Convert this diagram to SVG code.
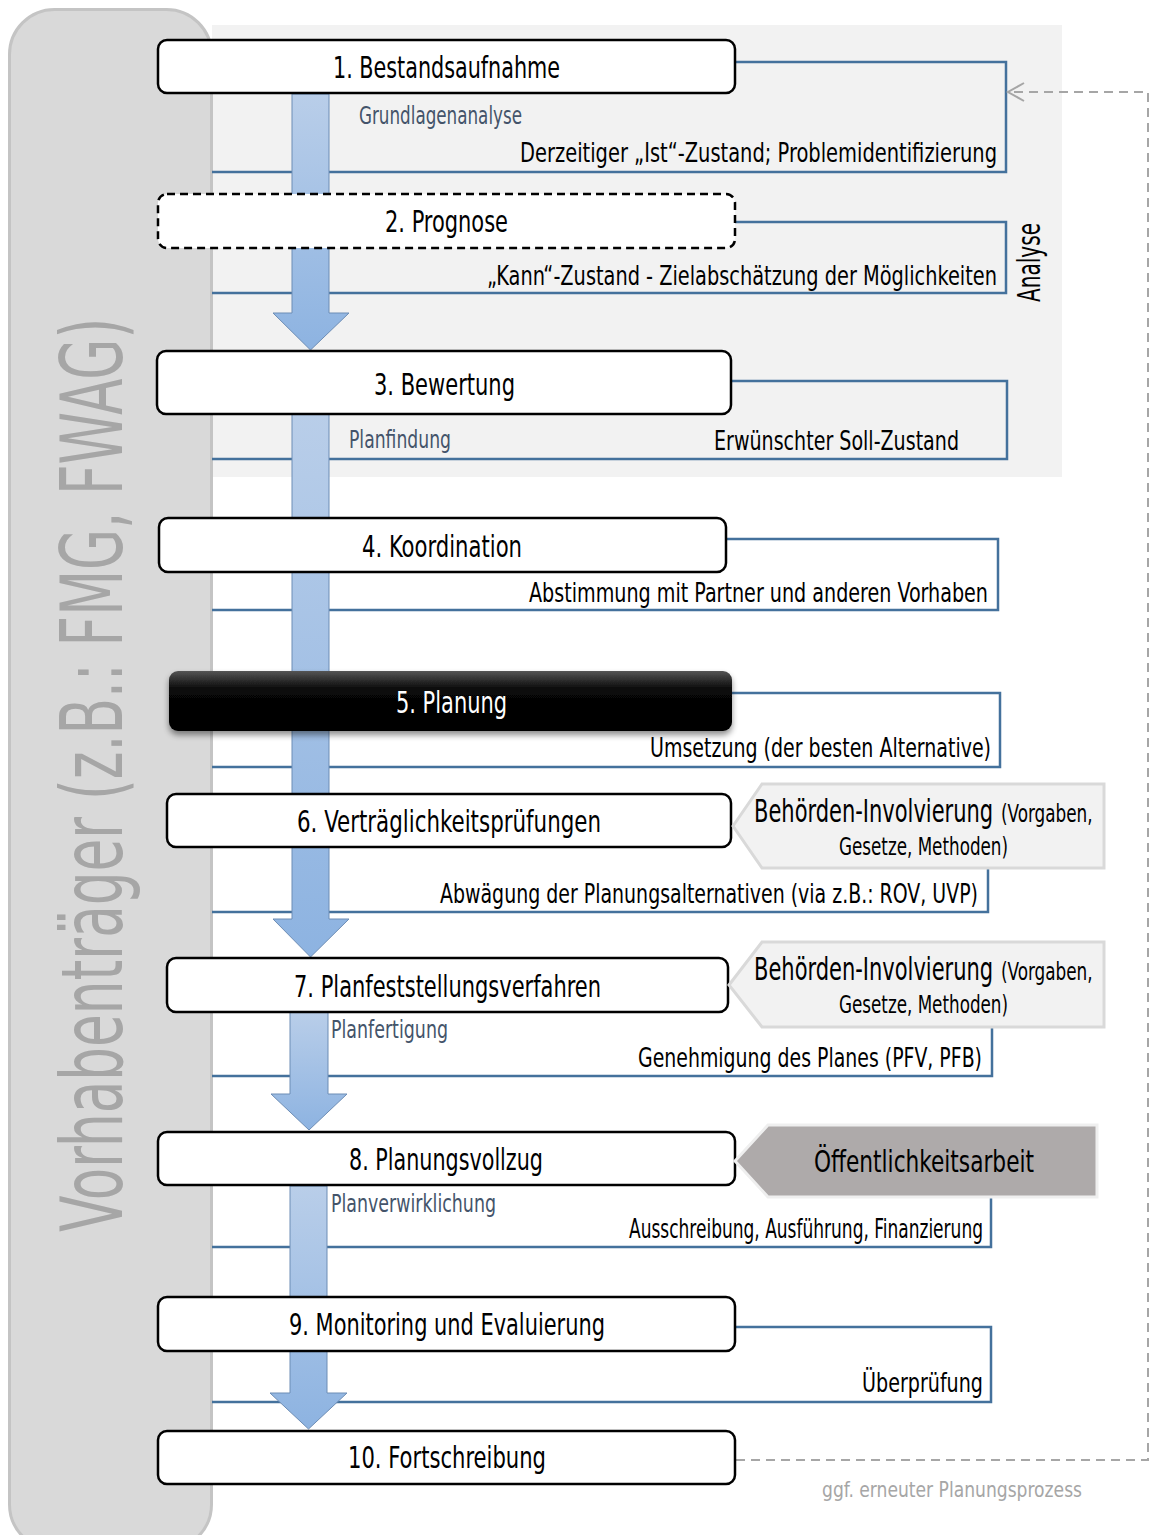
<svg xmlns="http://www.w3.org/2000/svg" width="1149" height="1535" viewBox="0 0 1149 1535">
  <defs>
    <linearGradient id="barGrad" x1="0" y1="0" x2="0" y2="1">
      <stop offset="0" stop-color="#b9cee9"/>
      <stop offset="1" stop-color="#8db3e1"/>
    </linearGradient>
    <linearGradient id="blackGrad" x1="0" y1="0" x2="0" y2="1">
      <stop offset="0" stop-color="#555"/>
      <stop offset="0.3" stop-color="#080808"/>
      <stop offset="1" stop-color="#000"/>
    </linearGradient>
    <filter id="shadow" x="-5%" y="-20%" width="110%" height="160%">
      <feGaussianBlur in="SourceAlpha" stdDeviation="3"/>
      <feOffset dy="4" result="b"/>
      <feComponentTransfer><feFuncA type="linear" slope="0.45"/></feComponentTransfer>
      <feMerge><feMergeNode/><feMergeNode in="SourceGraphic"/></feMerge>
    </filter>
  </defs>
  <style>
    text { font-family: "Liberation Sans Narrow", "DejaVu Sans Condensed", "Roboto", "Liberation Sans", sans-serif; }
    .box { fill: #fff; stroke: #000; stroke-width: 2.5; }
    .title { font-size: 31px; fill: #000; }
    .note { font-size: 27px; fill: #000; }
    .sub { font-size: 25px; fill: #44546a; }
    .bracket { fill: none; stroke: #44719c; stroke-width: 2.5; }
    .bar { fill: url(#barGrad); stroke: #6d8db5; stroke-width: 1; }
    .authority { fill: #f2f2f2; stroke: #d9d9d9; stroke-width: 3; }
    .loop { fill: none; stroke: #a6a6a6; stroke-width: 2; }
  </style>

  <!-- background panels -->
  <rect x="212" y="25" width="850" height="452" fill="#f2f2f2"/>
  <rect id="sponsor-panel" x="9.5" y="9.5" width="202" height="1540" rx="45" fill="#d9d9d9" stroke="#c4c4c4" stroke-width="3"/>
  <text transform="translate(122,1232) rotate(-90) scale(0.7,1)" font-size="86" fill="#a6a6a6" textLength="1306" lengthAdjust="spacingAndGlyphs">Vorhabenträger (z.B.: FMG, FWAG)</text>
  <text transform="translate(1040,302) rotate(-90)" font-size="32" fill="#000" textLength="79" lengthAdjust="spacingAndGlyphs">Analyse</text>

  <!-- connectors: result brackets, flow arrows, feedback loop -->
  <g id="connectors">
    <polyline class="bracket" points="735,62 1006,62 1006,172 212,172"/>
    <polyline class="bracket" points="735,222 1006,222 1006,293 212,293"/>
    <polyline class="bracket" points="731,381 1007,381 1007,459 212,459"/>
    <polyline class="bracket" points="726,539 998,539 998,610 212,610"/>
    <polyline class="bracket" points="732,693 1000,693 1000,767 212,767"/>
    <polyline class="bracket" points="988,868 988,912 212,912"/>
    <polyline class="bracket" points="992,1027 992,1076 212,1076"/>
    <polyline class="bracket" points="991,1197 991,1247 212,1247"/>
    <polyline class="bracket" points="735,1327 991,1327 991,1402 212,1402"/>

    <path class="bar" d="M292,94 V313 H273 L310.5,350 L349,313 H329 V94 Z"/>
    <path class="bar" d="M292,414 V919 H273 L310.5,957 L349,919 H329 V414 Z"/>
    <path class="bar" d="M290,1012 V1094 H271 L309,1130 L347,1094 H328 V1012 Z"/>
    <path class="bar" d="M290,1186 V1393 H270 L308.5,1429 L347,1393 H327 V1186 Z"/>

    <path class="loop" stroke-dasharray="9 6" d="M736,1460 H1148 V92 H1010"/>
    <polyline class="loop" points="1024,83 1008,92 1024,101"/>
  </g>

  <!-- result texts beside the brackets -->
  <text class="sub" x="359" y="124" textLength="163" lengthAdjust="spacingAndGlyphs">Grundlagenanalyse</text>
  <text class="note" x="520" y="162" textLength="477" lengthAdjust="spacingAndGlyphs">Derzeitiger „Ist“-Zustand; Problemidentifizierung</text>
  <text class="note" x="487" y="285" textLength="510" lengthAdjust="spacingAndGlyphs">„Kann“-Zustand - Zielabschätzung der Möglichkeiten</text>
  <text class="sub" x="349" y="448" textLength="102" lengthAdjust="spacingAndGlyphs">Planfindung</text>
  <text class="note" x="714" y="450" textLength="245" lengthAdjust="spacingAndGlyphs">Erwünschter Soll-Zustand</text>
  <text class="note" x="529" y="602" textLength="459" lengthAdjust="spacingAndGlyphs">Abstimmung mit Partner und anderen Vorhaben</text>
  <text class="note" x="650" y="757" textLength="341" lengthAdjust="spacingAndGlyphs">Umsetzung (der besten Alternative)</text>
  <text class="note" x="440" y="903" textLength="538" lengthAdjust="spacingAndGlyphs">Abwägung der Planungsalternativen (via z.B.: ROV, UVP)</text>
  <text class="sub" x="331" y="1038" textLength="117" lengthAdjust="spacingAndGlyphs">Planfertigung</text>
  <text class="note" x="638" y="1067" textLength="344" lengthAdjust="spacingAndGlyphs">Genehmigung des Planes (PFV, PFB)</text>
  <text class="sub" x="331" y="1212" textLength="165" lengthAdjust="spacingAndGlyphs">Planverwirklichung</text>
  <text class="note" x="629" y="1238" font-size="25" textLength="354" lengthAdjust="spacingAndGlyphs">Ausschreibung, Ausführung, Finanzierung</text>
  <text class="note" x="862" y="1392" textLength="121" lengthAdjust="spacingAndGlyphs">Überprüfung</text>
  <text x="822" y="1497" font-size="22" fill="#a6a6a6" textLength="260" lengthAdjust="spacingAndGlyphs">ggf. erneuter Planungsprozess</text>

  <!-- process steps -->
  <g id="step1">
    <rect class="box" x="158" y="40" width="577" height="53" rx="9"/>
    <text class="title" x="333" y="78" textLength="227" lengthAdjust="spacingAndGlyphs">1. Bestandsaufnahme</text>
  </g>
  <g id="step2">
    <rect class="box" x="158" y="194" width="577" height="54" rx="9" stroke-dasharray="8 5"/>
    <text class="title" x="385" y="232" textLength="123" lengthAdjust="spacingAndGlyphs">2. Prognose</text>
  </g>
  <g id="step3">
    <rect class="box" x="157" y="351" width="574" height="63" rx="9"/>
    <text class="title" x="374" y="395" textLength="141" lengthAdjust="spacingAndGlyphs">3. Bewertung</text>
  </g>
  <g id="step4">
    <rect class="box" x="159" y="518" width="567" height="54" rx="9"/>
    <text class="title" x="362" y="557" textLength="160" lengthAdjust="spacingAndGlyphs">4. Koordination</text>
  </g>
  <g id="step5">
    <rect x="169" y="671" width="563" height="60" rx="9" fill="url(#blackGrad)" filter="url(#shadow)"/>
    <text class="title" x="396" y="713" style="fill:#fff" textLength="111" lengthAdjust="spacingAndGlyphs">5. Planung</text>
  </g>
  <g id="step6">
    <rect class="box" x="167" y="794" width="564" height="53" rx="9"/>
    <text class="title" x="297" y="832" textLength="304" lengthAdjust="spacingAndGlyphs">6. Verträglichkeitsprüfungen</text>
  </g>
  <g id="step7">
    <rect class="box" x="167" y="958" width="561" height="54" rx="9"/>
    <text class="title" x="294" y="997" textLength="307" lengthAdjust="spacingAndGlyphs">7. Planfeststellungsverfahren</text>
  </g>
  <g id="step8">
    <rect class="box" x="158" y="1132" width="577" height="53" rx="9"/>
    <text class="title" x="349" y="1170" textLength="194" lengthAdjust="spacingAndGlyphs">8. Planungsvollzug</text>
  </g>
  <g id="step9">
    <rect class="box" x="158" y="1297" width="577" height="54" rx="9"/>
    <text class="title" x="289" y="1335" textLength="316" lengthAdjust="spacingAndGlyphs">9. Monitoring und Evaluierung</text>
  </g>
  <g id="step10">
    <rect class="box" x="158" y="1431" width="577" height="53" rx="9"/>
    <text class="title" x="348" y="1468" textLength="198" lengthAdjust="spacingAndGlyphs">10. Fortschreibung</text>
  </g>

  <!-- side notes (horizontally condensed via scale) -->
  <g id="authority1">
    <polygon class="authority" points="733,826 762,784 1104,784 1104,868 762,868"/>
    <text transform="translate(754,822) scale(0.65,1)" font-size="32" textLength="368" lengthAdjust="spacingAndGlyphs">Behörden-Involvierung</text>
    <text transform="translate(1001,822) scale(0.65,1)" font-size="24" textLength="141" lengthAdjust="spacingAndGlyphs">(Vorgaben,</text>
    <text x="839" y="855" font-size="25" textLength="169" lengthAdjust="spacingAndGlyphs">Gesetze, Methoden)</text>
  </g>
  <g id="authority2">
    <polygon class="authority" points="729,985 762,942 1104,942 1104,1027 762,1027"/>
    <text transform="translate(754,980) scale(0.65,1)" font-size="32" textLength="368" lengthAdjust="spacingAndGlyphs">Behörden-Involvierung</text>
    <text transform="translate(1001,980) scale(0.65,1)" font-size="24" textLength="141" lengthAdjust="spacingAndGlyphs">(Vorgaben,</text>
    <text x="839" y="1013" font-size="25" textLength="169" lengthAdjust="spacingAndGlyphs">Gesetze, Methoden)</text>
  </g>
  <g id="publicity">
    <polygon points="735,1161 768,1125 1097,1125 1097,1197 768,1197" fill="#aeaaaa" stroke="#efefef" stroke-width="3"/>
    <text x="814" y="1172" font-size="31" textLength="220" lengthAdjust="spacingAndGlyphs">Öffentlichkeitsarbeit</text>
  </g>
</svg>
